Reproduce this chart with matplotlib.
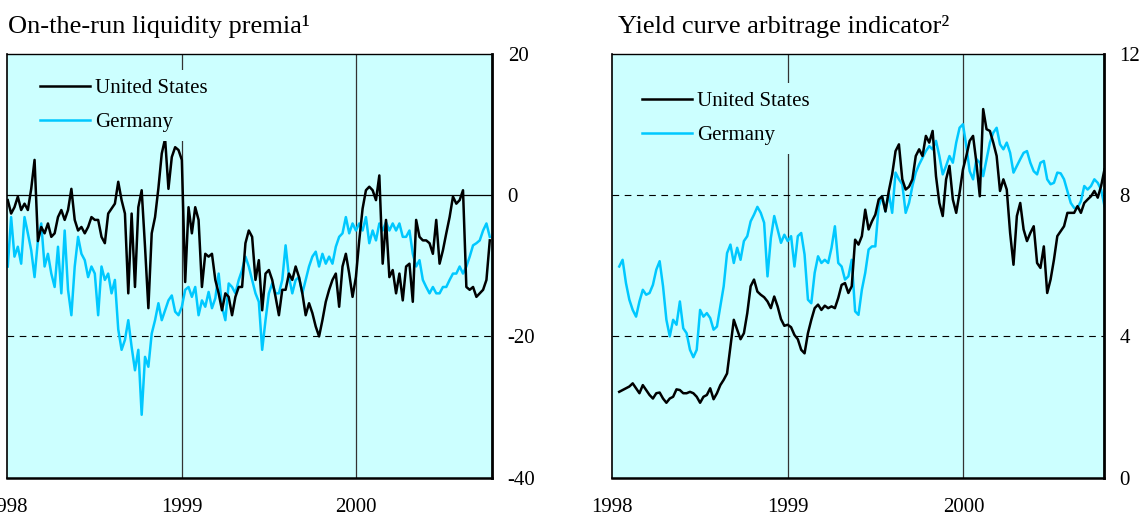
import numpy as np
import pandas as pd
import matplotlib
matplotlib.use("Agg")
import matplotlib.pyplot as plt
import matplotlib.dates as mdates

plt.rcParams['font.family'] = ['Liberation Serif', 'DejaVu Serif']

# ---------------- data ----------------
weeks = pd.date_range('1998-01-02', periods=147, freq='7D')

# Panel 1: on-the-run liquidity premia (weekly, from Jan 1998)
liq_us = [-0.7, -2.6, -1.7, -0.2, -2.1, -1.2, -2.1, 0.9, 5.0, -6.5,
          -4.5, -5.4, -4.0, -5.9, -5.4, -3.1, -2.1, -3.5, -2.1, 0.9,
          -3.5, -5.0, -4.5, -5.4, -4.5, -3.1, -3.5, -3.5, -5.9, -6.8,
          -2.6, -1.9, -1.2, 1.9, -0.7, -2.6, -13.9, -2.6, -13.0, -1.7,
          0.7, -7.3, -16.0, -5.4, -3.1, 1.0, 5.9, 8.0, 0.9, 5.4,
          6.8, 6.4, 5.0, -12.3, -1.7, -5.4, -1.7, -3.5, -13.0, -8.3,
          -8.7, -8.3, -12.0, -13.9, -16.3, -13.9, -14.4, -17.0, -14.4, -13.0,
          -13.0, -6.8, -5.0, -5.9, -12.0, -9.2, -16.3, -11.1, -10.6, -12.0,
          -14.4, -17.0, -13.4, -13.4, -11.1, -12.0, -10.1, -11.6, -13.9, -17.0,
          -15.3, -16.7, -18.6, -20.0, -17.7, -15.1, -13.4, -12.0, -11.1, -15.8,
          -10.1, -8.3, -11.1, -14.4, -11.6, -6.4, -1.9, 0.7, 1.2, 0.7,
          -0.7, 2.8, -9.7, -3.5, -11.6, -10.6, -13.9, -11.1, -14.9, -10.1,
          -9.7, -15.1, -3.5, -5.9, -6.4, -6.4, -6.8, -8.3, -3.5, -9.7,
          -7.8, -5.4, -3.1, -0.2, -1.2, -0.7, 0.7, -13.0, -13.4, -13.0,
          -14.4, -13.9, -13.4, -12.0, -6.4]
liq_de = [-10.1, -3.1, -8.7, -7.3, -9.7, -3.1, -5.4, -7.8, -11.6, -6.4,
          -4.0, -10.1, -8.3, -11.1, -13.0, -7.3, -13.9, -5.0, -13.4, -17.0,
          -10.1, -5.9, -8.3, -9.2, -11.6, -10.1, -11.1, -17.0, -10.1, -12.0,
          -11.1, -13.9, -12.0, -19.0, -21.9, -20.5, -17.7, -21.5, -24.8, -21.9,
          -31.1, -22.9, -24.3, -19.6, -17.7, -15.3, -17.7, -16.3, -14.9, -14.2,
          -16.5, -17.0, -15.8, -13.4, -13.0, -14.4, -13.0, -17.0, -14.9, -15.8,
          -13.7, -16.0, -14.6, -11.1, -15.8, -17.7, -12.5, -13.0, -13.9, -12.0,
          -10.6, -8.7, -10.1, -12.0, -13.9, -15.1, -21.9, -17.7, -13.9, -12.5,
          -13.9, -13.9, -12.0, -7.1, -11.6, -13.9, -12.0, -11.6, -13.9, -12.0,
          -10.1, -8.7, -8.0, -10.1, -8.3, -9.7, -8.7, -9.7, -7.3, -5.9,
          -5.4, -3.1, -5.4, -4.0, -5.0, -4.0, -5.0, -3.1, -6.8, -5.0,
          -6.4, -4.0, -5.0, -3.8, -5.0, -4.0, -5.0, -4.0, -5.9, -5.9,
          -5.0, -8.3, -10.1, -9.2, -12.0, -13.0, -13.9, -13.0, -13.9, -13.9,
          -13.0, -13.0, -12.0, -11.1, -11.1, -10.1, -11.1, -10.1, -8.7, -7.1,
          -6.8, -6.4, -5.0, -4.0, -5.9]

# Panel 2: yield curve arbitrage indicator (weekly, from mid-Jan 1998)
arb_us = [2.43, 2.48, 2.53, 2.58, 2.67, 2.53, 2.39, 2.62, 2.48, 2.34,
          2.24, 2.39, 2.41, 2.24, 2.12, 2.24, 2.29, 2.50, 2.48, 2.39,
          2.39, 2.43, 2.39, 2.29, 2.12, 2.29, 2.34, 2.53, 2.22, 2.39,
          2.62, 2.77, 2.95, 3.71, 4.47, 4.19, 3.92, 4.09, 4.66, 5.42,
          5.61, 5.27, 5.18, 5.11, 4.99, 4.80, 5.13, 4.85, 4.49, 4.30,
          4.33, 4.26, 4.04, 3.92, 3.62, 3.52, 4.09, 4.47, 4.80, 4.90,
          4.75, 4.87, 4.80, 4.85, 4.80, 5.09, 5.46, 5.51, 5.23, 5.42,
          6.74, 6.60, 6.84, 7.59, 7.03, 7.26, 7.45, 7.88, 7.97, 7.54,
          8.12, 8.59, 9.25, 9.44, 8.45, 8.16, 8.24, 8.45, 9.11, 9.30,
          9.11, 9.68, 9.49, 9.82, 8.54, 7.78, 7.41, 8.45, 8.83, 7.88,
          7.50, 8.07, 8.73, 9.11, 9.54, 9.68, 8.92, 7.97, 10.44, 9.87,
          9.82, 9.49, 9.11, 8.12, 8.45, 8.16, 6.93, 6.03, 7.41, 7.78,
          7.03, 6.70, 6.93, 7.12, 6.08, 5.94, 6.55, 5.23, 5.61, 6.17,
          6.84, 6.98, 7.12, 7.50, 7.50, 7.50, 7.69, 7.50, 7.78, 7.88,
          7.97, 8.12, 7.93, 8.26, 8.73]
arb_de = [5.98, 6.17, 5.51, 5.04, 4.75, 4.56, 4.99, 5.32, 5.18, 5.23,
          5.46, 5.89, 6.13, 5.42, 4.47, 4.00, 4.47, 4.33, 4.99, 4.23,
          4.09, 3.62, 3.41, 3.62, 4.75, 4.56, 4.66, 4.52, 4.19, 4.28,
          4.85, 5.42, 6.36, 6.60, 6.08, 6.51, 6.17, 6.70, 6.84, 7.26,
          7.45, 7.67, 7.50, 7.22, 5.70, 6.79, 7.41, 7.03, 6.65, 6.88,
          6.70, 6.84, 5.98, 6.84, 6.93, 6.32, 5.04, 4.94, 5.80, 6.27,
          6.08, 6.17, 6.08, 6.51, 7.12, 6.08, 5.98, 5.61, 5.70, 6.17,
          4.71, 4.61, 5.32, 5.80, 6.46, 6.55, 6.55, 7.69, 7.97, 7.54,
          8.05, 7.50, 8.64, 8.45, 8.31, 7.50, 7.78, 8.26, 8.64, 8.87,
          9.06, 9.25, 9.39, 9.30, 9.54, 9.11, 8.59, 8.83, 9.11, 8.92,
          9.49, 9.91, 10.01, 9.39, 8.68, 8.45, 9.02, 8.92, 8.54, 9.02,
          9.49, 9.77, 9.91, 9.44, 9.30, 9.49, 9.20, 8.64, 8.83, 9.02,
          9.20, 9.25, 8.92, 8.68, 8.59, 8.92, 8.97, 8.45, 8.31, 8.35,
          8.64, 8.62, 8.45, 8.12, 7.78, 7.64, 7.64, 7.83, 8.26, 8.16,
          8.26, 8.45, 8.35, 8.16, 7.69]

t_liq = weeks[:len(liq_us)]
t_arb = weeks[2:2 + len(arb_us)]

titles = ["On-the-run liquidity premia\u00b9", "Yield curve arbitrage indicator\u00b2"]
series_names = ["United States", "Germany"]
year_ticks = ["1998", "1999", "2000"]
liq_yticks = [20, 0, -20, -40]
arb_yticks = [12, 8, 4, 0]

# ---------------- style ----------------
BG = '#ccffff'
C_US = '#000000'
C_DE = '#00c8ff'
W, H = 1143, 518

fig = plt.figure(figsize=(W / 100, H / 100), dpi=100)

def px_axes(x0, x1, ytop, ybot):
    return fig.add_axes([x0 / W, 1 - ybot / H, (x1 - x0) / W, (ybot - ytop) / H])

ax1 = px_axes(7.3, 491.7, 54, 477.6)
ax2 = px_axes(612, 1104, 54, 477.6)

tick_dates = [pd.Timestamp(f'{y}-01-01') for y in year_ticks]

def style(ax, xmax, yticks, solid, dashed, leg_anchor, ypad):
    ax.set_facecolor(BG)
    ax.set_xlim(pd.Timestamp('1998-01-01'), pd.Timestamp(xmax))
    ax.set_ylim(min(yticks), max(yticks))
    ax.set_xticks(tick_dates)
    ax.set_xticklabels(year_ticks)
    ax.yaxis.tick_right()
    ax.set_yticks(yticks)
    ax.set_yticklabels([str(v) for v in yticks])
    ax.tick_params(axis='both', length=0, labelsize=15)
    ax.tick_params(axis='x', pad=15)
    ax.tick_params(axis='y', pad=ypad)
    for d in tick_dates[1:]:
        ax.axvline(d, color='#333333', lw=0.9, zorder=1)
    for v in solid:
        ax.axhline(v, color='black', lw=0.9, zorder=1)
    for v in dashed:
        ax.axhline(v, color='black', lw=0.8, ls=(0, (6, 5)), zorder=1)
    ax.spines['top'].set_linewidth(1.0)
    ax.spines['left'].set_linewidth(1.2)
    ax.spines['right'].set_linewidth(2.0)
    ax.spines['bottom'].set_linewidth(1.8)
    leg = ax.legend(loc='upper left', bbox_to_anchor=leg_anchor, fontsize=15,
                    frameon=True, facecolor=BG, edgecolor='none', framealpha=1,
                    handlelength=2.4, handletextpad=0.25, labelspacing=0.72,
                    borderpad=0.4, borderaxespad=0)
    leg.get_frame().set_linewidth(0)
    leg.set_zorder(5)

ax1.plot(t_liq, liq_us, color=C_US, lw=1.8, label=series_names[0], zorder=3)
ax1.plot(t_liq, liq_de, color=C_DE, lw=1.8, label=series_names[1], zorder=2)
style(ax1, '2000-10-10', liq_yticks, solid=[0], dashed=[-20],
      leg_anchor=((31.7 - 7.3) / 484.4, (477.6 - 70) / 423.6), ypad=11.5)

ax2.plot(t_arb, arb_us, color=C_US, lw=1.8, label=series_names[0], zorder=3)
ax2.plot(t_arb, arb_de, color=C_DE, lw=1.8, label=series_names[1], zorder=2)
style(ax2, '2000-10-19', arb_yticks, solid=[], dashed=[8, 4],
      leg_anchor=((633.4 - 612) / 492, (477.6 - 83) / 423.6), ypad=11)

fig.text(8 / W, 1 - 33 / H, titles[0], fontsize=19, ha='left', va='baseline')
fig.text(618 / W, 1 - 33 / H, titles[1], fontsize=19, ha='left', va='baseline')

fig.savefig('out.png', dpi=100, facecolor='white')
